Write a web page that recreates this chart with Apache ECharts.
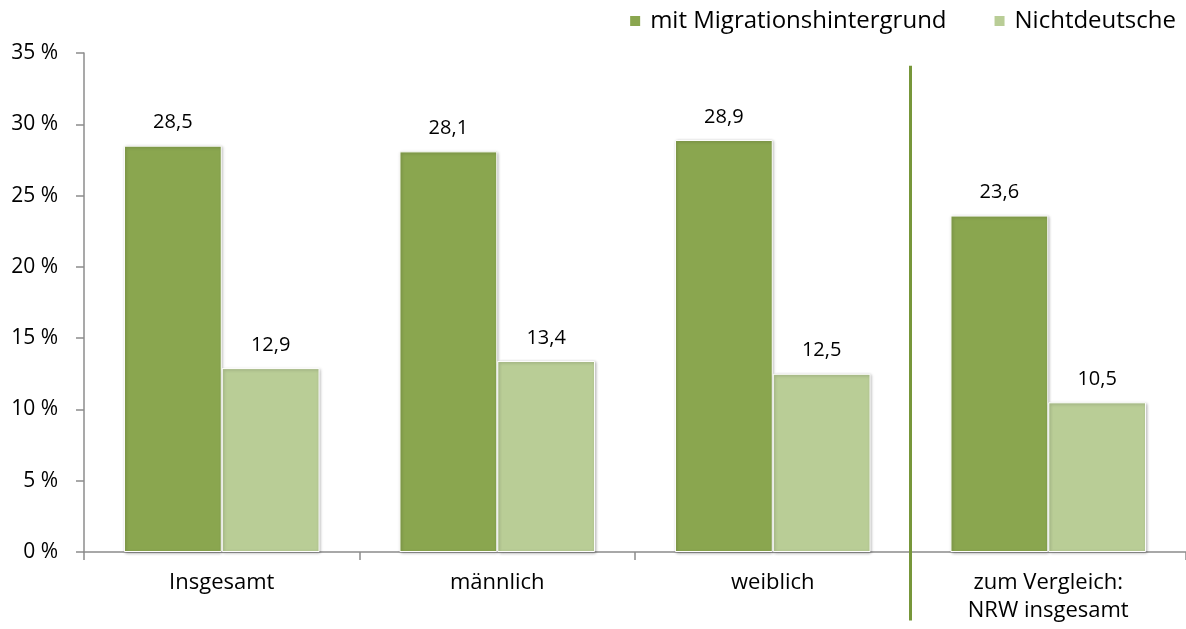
<!DOCTYPE html>
<html>
<head>
<meta charset="utf-8">
<script src="https://cdn.jsdelivr.net/npm/echarts@6/dist/echarts.min.js"></script>
<style>html,body{margin:0;padding:0;background:#fff}#c{width:1186px;height:629px}</style>
</head>
<body>
<div id="c"></div>
<script>
var categories = ['Insgesamt', 'männlich', 'weiblich', 'zum Vergleich:\nNRW insgesamt'];
var seriesNames = ['mit Migrationshintergrund', 'Nichtdeutsche'];
var migration = [28.5, 28.1, 28.9, 23.6];
var nichtdeutsche = [12.9, 13.4, 12.5, 10.5];
var yTicks = [0, 5, 10, 15, 20, 25, 30, 35];
var dividerAt = 3;            // boundary between 3rd and 4th category
var dividerRange = [-4.8, 34.1];

var FONT = 'Open Sans';
var chart = echarts.init(document.getElementById('c'), null, {renderer: 'canvas'});
function fmt(v) { return v.toFixed(1).replace('.', ','); }
var barStyle = function (color) {
  return {
    color: color,
    borderColor: '#ffffff',
    borderWidth: 1,
    shadowColor: 'rgba(0,0,0,0.3)',
    shadowBlur: 3,
    shadowOffsetX: 1,
    shadowOffsetY: 1
  };
};
var labelCfg = {
  show: true, position: 'top', distance: 13,
  fontFamily: FONT, fontSize: 20, color: '#000',
  formatter: function (p) { return fmt(p.value); }
};
chart.setOption({
  animation: false,
  textStyle: {fontFamily: FONT},
  legend: {
    top: 4, right: 5,
    itemWidth: 12, itemHeight: 12, itemGap: 46,
    icon: 'rect',
    textStyle: {fontFamily: FONT, fontSize: 24, color: '#000', padding: [0, 0, 0, 4]},
    data: seriesNames
  },
  grid: {left: 84, right: 0, top: 53, bottom: 77, containLabel: false},
  xAxis: [{
    type: 'category',
    data: categories,
    axisLine: {lineStyle: {color: '#8c8c8c', width: 1.5}},
    axisTick: {show: true, length: 8, lineStyle: {color: '#8c8c8c', width: 1.5}},
    axisLabel: {fontFamily: FONT, fontSize: 22, color: '#000', margin: 17, lineHeight: 28},
    splitLine: {show: false}
  }, {
    type: 'value', min: 0, max: categories.length, show: false
  }],
  yAxis: {
    type: 'value', min: yTicks[0], max: yTicks[yTicks.length - 1], interval: 5,
    axisLine: {show: true, lineStyle: {color: '#8c8c8c', width: 1.5}},
    axisTick: {show: true, length: 8, lineStyle: {color: '#8c8c8c', width: 1.5}},
    axisLabel: {fontFamily: FONT, fontSize: 21, color: '#000', margin: 26, formatter: '{value} %'},
    splitLine: {show: false}
  },
  series: [{
    name: seriesNames[0], type: 'bar', data: migration,
    barGap: '0%', barCategoryGap: '29%',
    itemStyle: barStyle('#8aa64f'), label: labelCfg
  }, {
    name: seriesNames[1], type: 'bar', data: nichtdeutsche,
    itemStyle: barStyle('#b9cd96'), label: labelCfg
  }, {
    type: 'line', xAxisIndex: 1, clip: false, silent: true, symbol: 'none',
    data: [[dividerAt, dividerRange[0]], [dividerAt, dividerRange[1]]],
    lineStyle: {color: '#77973a', width: 3}
  }]
});
</script>
</body>
</html>
